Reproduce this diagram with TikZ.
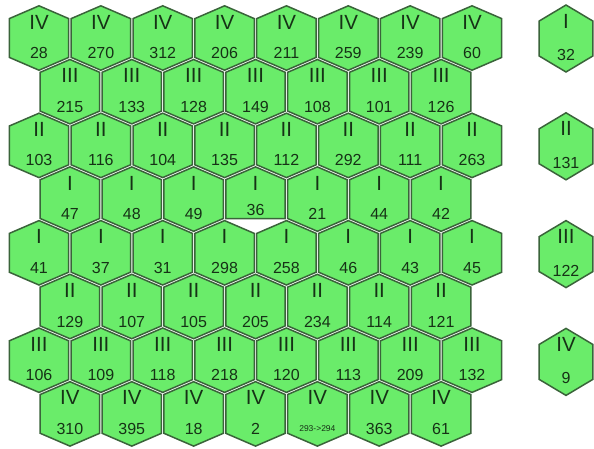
\documentclass[tikz,border=0pt]{standalone}
\usepackage{fontspec}
\setmainfont{Liberation Sans}
\definecolor{hexfill}{RGB}{106,236,106}
\definecolor{hexline}{RGB}{58,100,58}
\definecolor{hextext}{RGB}{22,50,22}
\tikzset{
  hexcell/.style={draw=hexline,fill=hexfill,line width=1.5pt,line join=miter},
  numeral/.style={text=hextext,inner sep=0pt,font=\fontsize{20.5pt}{20.5pt}\selectfont},
  count/.style={text=hextext,inner sep=0pt,font=\fontsize{16pt}{16pt}\selectfont},
}
\newcommand{\tinycount}[1]{{\fontsize{8.5pt}{8.5pt}\selectfont #1}}
\begin{document}
\begin{tikzpicture}[x=1pt,y=-1pt]
  \useasboundingbox (0,0) rectangle (594,448);
  % main field: odd rows shifted by half a cell, cell 3 of row 3 has a flat bottom
  \foreach \rn/\counts [count=\row from 0] in {
      IV/{28,270,312,206,211,259,239,60},
      III/{215,133,128,149,108,101,126},
      II/{103,116,104,135,112,292,111,263},
      I/{47,48,49,36,21,44,42},
      I/{41,37,31,298,258,46,43,45},
      II/{129,107,105,205,234,114,121},
      III/{106,109,118,218,120,113,209,132},
      IV/{310,395,18,2,\tinycount{293->294},363,61}}{
    \pgfmathsetmacro\xoff{mod(\row,2)*30.93}
    \foreach \n [count=\col from 0] in \counts {
      \coordinate (C\row-\col) at ({39+\xoff+61.86*\col},{38+53.7*\row});
      \ifnum\row\col=33
        \draw[hexcell] (C\row-\col) +(0,-32.2) -- +(29.7,-19.4) -- +(29.7,19.4)
          -- +(-29.7,19.4) -- +(-29.7,-19.4) -- cycle;
        \node[count] (N\row-\col) at ([yshift=-11pt]C\row-\col) {\n};
      \else
        \draw[hexcell] (C\row-\col) +(0,-32.2) -- +(29.7,-19.4) -- +(29.7,19.4)
          -- +(0,32.2) -- +(-29.7,19.4) -- +(-29.7,-19.4) -- cycle;
        \node[count] (N\row-\col) at ([yshift=-15pt]C\row-\col) {\n};
      \fi
      \node[numeral] (R\row-\col) at ([yshift=16pt]C\row-\col) {\rn};
    }
  }
  % single cells on the right
  \foreach \rn/\n [count=\i from 0] in {I/32,II/131,III/122,IV/9}{
    \coordinate (S\i) at (566,{38.5+107.8*\i});
    \draw[hexcell] (S\i) +(0,-33.5) -- +(26.8,-17.5) -- +(26.8,17.5)
      -- +(0,33.5) -- +(-26.8,17.5) -- +(-26.8,-17.5) -- cycle;
    \node[numeral] (SR\i) at ([yshift=17.5pt]S\i) {\rn};
    \node[count] (SN\i) at ([yshift=-16.5pt]S\i) {\n};
  }
\end{tikzpicture}
\end{document}
